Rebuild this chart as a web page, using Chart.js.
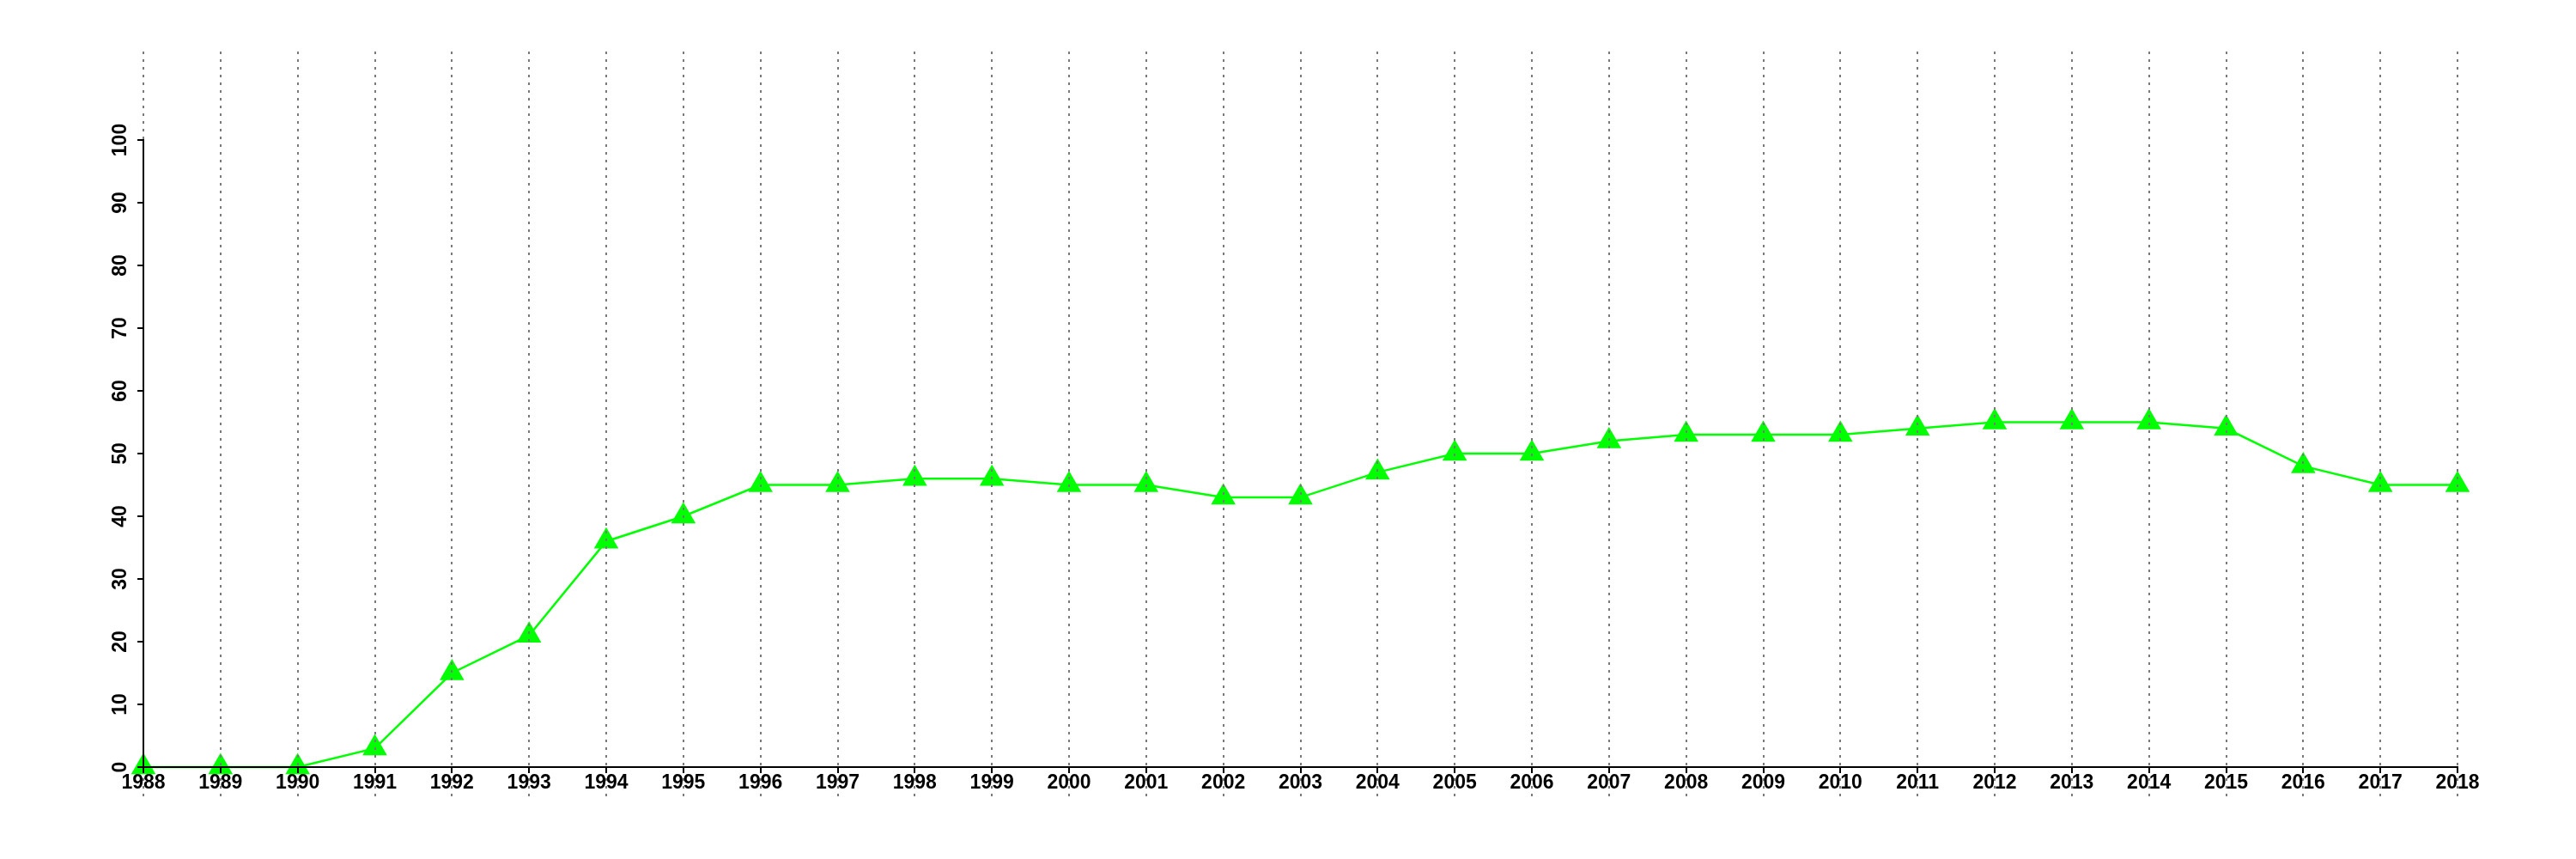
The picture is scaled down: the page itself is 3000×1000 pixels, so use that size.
<!DOCTYPE html>
<html>
<head>
<meta charset="utf-8">
<script src="https://cdn.jsdelivr.net/npm/chart.js@4.4.1/dist/chart.umd.min.js"></script>
<style>
  html, body { margin: 0; padding: 0; background: #ffffff; }
  #wrap { width: 3000px; height: 1000px; }
</style>
</head>
<body>
<div id="wrap"><canvas id="c" width="3000" height="1000"></canvas></div>
<script>
// ---- data ----
const years = ['1988','1989','1990','1991','1992','1993','1994','1995','1996','1997',
               '1998','1999','2000','2001','2002','2003','2004','2005','2006','2007',
               '2008','2009','2010','2011','2012','2013','2014','2015','2016','2017','2018'];
const values = [0, 0, 0, 3, 15, 21, 36, 40, 45, 45,
                46, 46, 45, 45, 43, 43, 47, 50, 50, 52,
                53, 53, 53, 54, 55, 55, 55, 54, 48, 45, 45];
const yTicks = [0, 10, 20, 30, 40, 50, 60, 70, 80, 90, 100];

// ---- style ----
const FONT = { family: 'Liberation Sans, Arial, Helvetica, sans-serif', size: 23, weight: 'bold' };
const GREEN = '#00ff00';
const GRID_COLOR = '#7a7a7a';

const vGrid = {
  id: 'vGrid',
  afterDatasetsDraw(chart) {
    const { ctx, scales: { x }, chartArea } = chart;
    ctx.save();
    ctx.strokeStyle = GRID_COLOR;
    ctx.lineWidth = 2;
    ctx.setLineDash([3, 6]);
    years.forEach((yr, i) => {
      const px = Math.round(x.getPixelForValue(i));
      ctx.beginPath();
      ctx.moveTo(px, chartArea.top - 103);
      ctx.lineTo(px, chartArea.bottom + 34);
      ctx.stroke();
    });
    ctx.restore();
  }
};

Chart.defaults.font = FONT;
Chart.defaults.color = '#000000';

new Chart(document.getElementById('c'), {
  type: 'line',
  data: {
    labels: years,
    datasets: [{
      data: values,
      borderColor: GREEN,
      borderWidth: 2.5,
      tension: 0,
      pointStyle: 'triangle',
      pointRadius: 16.5,
      pointHoverRadius: 16.5,
      pointBackgroundColor: GREEN,
      pointBorderWidth: 0,
      pointHoverBorderWidth: 0,
      clip: false,
      fill: false
    }]
  },
  options: {
    responsive: false,
    animation: false,
    devicePixelRatio: 1,
    events: [],
    layout: { padding: { left: 0, top: 163, right: 138, bottom: 0 } },
    plugins: { legend: { display: false }, tooltip: { enabled: false }, title: { display: false } },
    scales: {
      x: {
        type: 'category',
        offset: false,
        afterFit: (s) => { s.height = 107; },
        border: { display: true, color: '#000000', width: 2, z: 1 },
        grid: { display: true, drawOnChartArea: false, drawTicks: true, tickLength: 7, color: '#000000', lineWidth: 2, z: 1 },
        ticks: { autoSkip: false, maxRotation: 0, minRotation: 0, padding: -2, font: FONT, color: '#000000', z: 1 }
      },
      y: {
        min: 0,
        max: 100,
        afterFit: (s) => { s.width = 167; },
        afterBuildTicks: (s) => { s.ticks = yTicks.map(v => ({ value: v })); },
        border: { display: true, color: '#000000', width: 2, z: 1 },
        grid: { display: true, drawOnChartArea: false, drawTicks: true, tickLength: 7, color: '#000000', lineWidth: 2, z: 1 },
        ticks: { minRotation: 90, maxRotation: 90, crossAlign: 'center', padding: 0, font: FONT, color: '#000000', z: 1 }
      }
    }
  },
  plugins: [vGrid]
});
</script>
</body>
</html>
